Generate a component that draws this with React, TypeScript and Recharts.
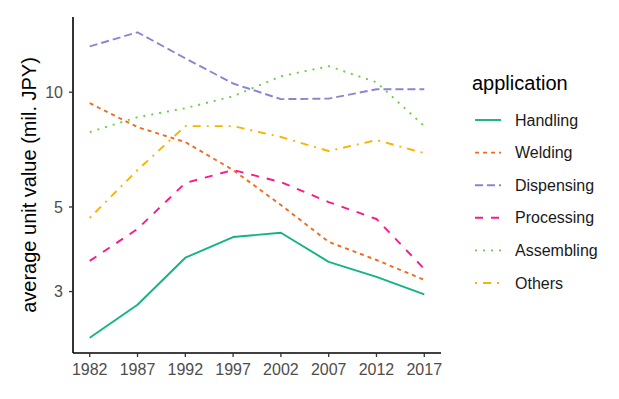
import React from 'react';
import { LineChart, Line, XAxis, YAxis, Label } from 'recharts';

const years = [1982, 1987, 1992, 1997, 2002, 2007, 2012, 2017];
const handling = [2.27, 2.77, 3.68, 4.17, 4.28, 3.59, 3.28, 2.95];
const welding = [9.36, 8.1, 7.4, 6.25, 5.06, 4.05, 3.63, 3.22];
const dispensing = [13.19, 14.36, 12.27, 10.54, 9.59, 9.62, 10.18, 10.18];
const processing = [3.61, 4.38, 5.78, 6.25, 5.81, 5.15, 4.65, 3.44];
const assembling = [7.86, 8.6, 9.08, 9.76, 11.01, 11.7, 10.62, 8.15];
const others = [4.68, 6.25, 8.15, 8.15, 7.63, 7.01, 7.49, 6.92];
const yTicks = [3, 5, 10];
const seriesNames = ['Handling', 'Welding', 'Dispensing', 'Processing', 'Assembling', 'Others'];
const seriesValues = [handling, welding, dispensing, processing, assembling, others];

const styles: Record<string, { color: string; dash?: string }> = {
  Handling: { color: '#13B386' },
  Welding: { color: '#F26B1D', dash: '4 4' },
  Dispensing: { color: '#8E84CE', dash: '8 4' },
  Processing: { color: '#FA198C', dash: '8 8' },
  Assembling: { color: '#6FCB4A', dash: '2 6' },
  Others: { color: '#F7B500', dash: '2 6 8 6' },
};

const data = years.map((y, i) => {
  const row: Record<string, number> = { year: y };
  seriesNames.forEach((n, k) => (row[n] = seriesValues[k][i]));
  return row;
});

const FONT = '"Liberation Sans", Arial, Helvetica, sans-serif';
const LW = 1.9;

const LegendBox = () => (
  <div style={{ position: 'absolute', left: 465, top: 60, fontFamily: FONT }}>
    <svg width={150} height={240}>
      <text x={7} y={30} fontSize={20} fill="#000">application</text>
      {seriesNames.map((n, i) => {
        const cy = 60 + i * 32.6;
        return (
          <g key={n}>
            <line x1={10} x2={36} y1={cy} y2={cy} stroke={styles[n].color} strokeWidth={LW}
              strokeDasharray={styles[n].dash} />
            <text x={50} y={cy} dy="0.355em" fontSize={16} fill="#1a1a1a">{n}</text>
          </g>
        );
      })}
    </svg>
  </div>
);

export default function App() {
  return (
    <div style={{ position: 'absolute', left: 0, top: 0, width: 619, height: 399, background: '#fff' }}>
      <LineChart width={619} height={399} data={data}
        margin={{ top: 17, right: 178, bottom: 0, left: 0 }} style={{ fontFamily: FONT }}>
        <XAxis dataKey="year" type="number" domain={[1980.25, 2018.75]} ticks={years}
          height={46} tickSize={4} tickMargin={7}
          axisLine={{ stroke: '#000', strokeWidth: 1.6 }}
          tickLine={{ stroke: '#333', strokeWidth: 1.3 }}
          tick={{ fill: '#4D4D4D', fontSize: 16 }} allowDataOverflow />
        <YAxis type="number" scale="log" domain={[2.07, 15.75]} ticks={yTicks} width={73}
          tickSize={4} tickMargin={6} allowDataOverflow
          axisLine={{ stroke: '#000', strokeWidth: 1.6 }}
          tickLine={{ stroke: '#333', strokeWidth: 1.3 }}
          tick={{ fill: '#4D4D4D', fontSize: 16 }}>
          <Label content={() => (
            <text x={36} y={185} transform="rotate(-90, 36, 185)" textAnchor="middle"
              fontSize={20} fill="#000" style={{ fontFamily: FONT }}>
              average unit value (mil. JPY)
            </text>
          )} />
        </YAxis>
        {seriesNames.map((n) => (
          <Line key={n} dataKey={n} type="linear" stroke={styles[n].color} strokeWidth={LW}
            strokeDasharray={styles[n].dash} dot={false} activeDot={false}
            isAnimationActive={false} strokeLinecap="butt" strokeLinejoin="round" />
        ))}
      </LineChart>
      <LegendBox />
    </div>
  );
}
